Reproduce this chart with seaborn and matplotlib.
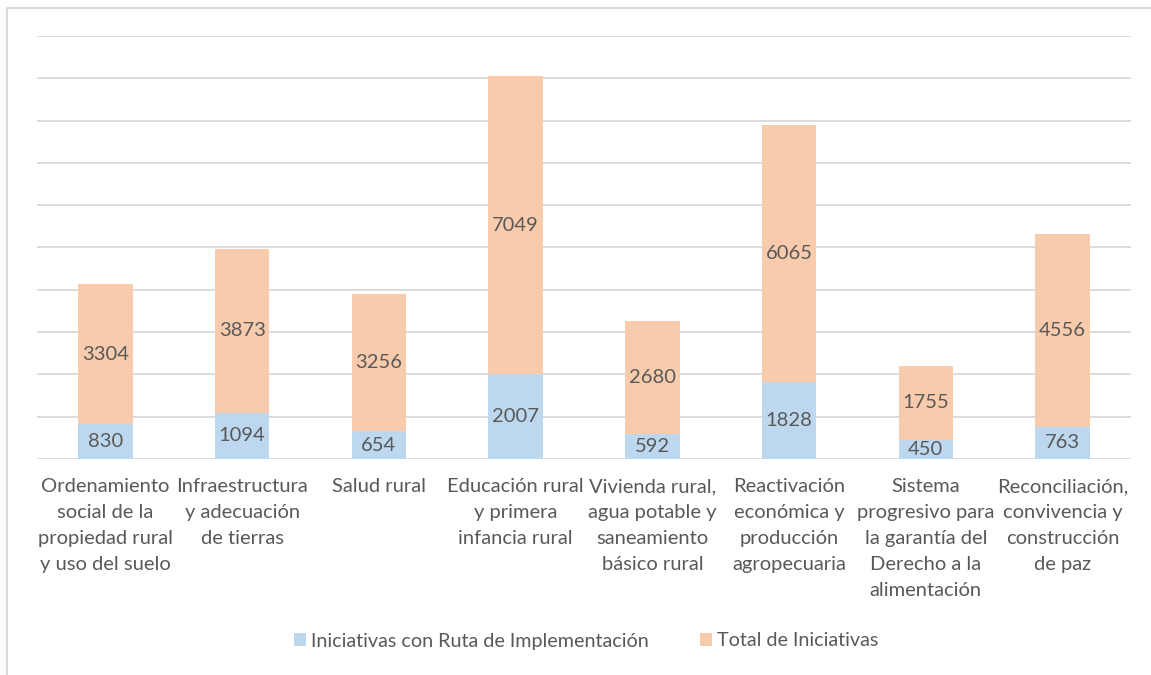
import matplotlib
matplotlib.use("Agg")
import matplotlib.pyplot as plt
import pandas as pd
import seaborn as sns
from matplotlib.lines import Line2D

categories = [
    "Ordenamiento\nsocial de la\npropiedad rural\ny uso del suelo",
    "Infraestructura\ny adecuación\nde tierras",
    "Salud rural",
    "Educación rural\ny primera\ninfancia rural",
    "Vivienda rural,\nagua potable y\nsaneamiento\nbásico rural",
    "Reactivación\neconómica y\nproducción\nagropecuaria",
    "Sistema\nprogresivo para\nla garantía del\nDerecho a la\nalimentación",
    "Reconciliación,\nconvivencia y\nconstrucción\nde paz",
]
con_ruta = [830, 1094, 654, 2007, 592, 1828, 450, 763]
total_iniciativas = [3304, 3873, 3256, 7049, 2680, 6065, 1755, 4556]

BLUE = "#BDD7EE"
ORANGE = "#F8CBAD"
TEXT = "#595959"
GRID = "#D9D9D9"
FS = 14.5


def main() -> None:
    df = pd.DataFrame(
        {"categoria": categories, "ruta": con_ruta, "total": total_iniciativas}
    )
    df["stack"] = df["ruta"] + df["total"]

    sns.set_theme(style="white")
    plt.rcParams["font.family"] = ["Lato", "DejaVu Sans"]

    fig = plt.figure(figsize=(11.51, 6.75), dpi=100)
    ax = fig.add_axes([37 / 1151, 1 - 459 / 675, (1131 - 37) / 1151, (459 - 36) / 675])

    # chart-area border (only top and left visible in the reference)
    bx, by = 7.5 / 1151, 1 - 7.5 / 675
    fig.lines.append(Line2D([bx, bx], [0, by], transform=fig.transFigure,
                            color=GRID, linewidth=1.5))
    fig.lines.append(Line2D([bx, 1], [by, by], transform=fig.transFigure,
                            color=GRID, linewidth=1.5))

    sns.barplot(data=df, x="categoria", y="stack", color=ORANGE, width=0.4,
                saturation=1, linewidth=0, ax=ax, label="Total de Iniciativas")
    sns.barplot(data=df, x="categoria", y="ruta", color=BLUE, width=0.4,
                saturation=1, linewidth=0, ax=ax,
                label="Iniciativas con Ruta de Implementación")

    ax.set_ylim(0, 10000)
    ax.set_xlim(-0.5, len(categories) - 0.5)
    ax.set_yticks(range(0, 10001, 1000))
    ax.set_yticklabels([])
    ax.yaxis.grid(True, color=GRID, linewidth=1.3)
    ax.set_axisbelow(True)
    for s in ax.spines.values():
        s.set_visible(False)
    ax.tick_params(axis="y", length=0)
    ax.tick_params(axis="x", length=0, pad=14, labelsize=FS, labelcolor=TEXT)
    ax.set_xticks(range(len(categories)))
    ax.set_xticklabels(categories, linespacing=1.63)
    ax.set_xlabel("")
    ax.set_ylabel("")

    orange_bars, blue_bars = ax.containers[0], ax.containers[1]
    for bar, r, t in zip(orange_bars, con_ruta, total_iniciativas):
        x = bar.get_x() + bar.get_width() / 2
        ax.text(x, r + t / 2, str(t), ha="center", va="center", fontsize=FS, color=TEXT)
    for bar, r in zip(blue_bars, con_ruta):
        x = bar.get_x() + bar.get_width() / 2
        ax.text(x, r / 2, str(r), ha="center", va="center", fontsize=FS, color=TEXT)

    handles, labels = ax.get_legend_handles_labels()
    order = [labels.index("Iniciativas con Ruta de Implementación"),
             labels.index("Total de Iniciativas")]
    ax.legend([handles[i] for i in order], [labels[i] for i in order],
              loc="center", bbox_to_anchor=(586 / 1151, (675 - 641) / 675),
              bbox_transform=fig.transFigure,
              ncol=2, frameon=False, fontsize=14.2, labelcolor=TEXT,
              handlelength=0.6, handleheight=0.6, handletextpad=0.25, columnspacing=2.6)

    fig.savefig("out.png", dpi=100)
    plt.close(fig)


if __name__ == "__main__":
    main()
